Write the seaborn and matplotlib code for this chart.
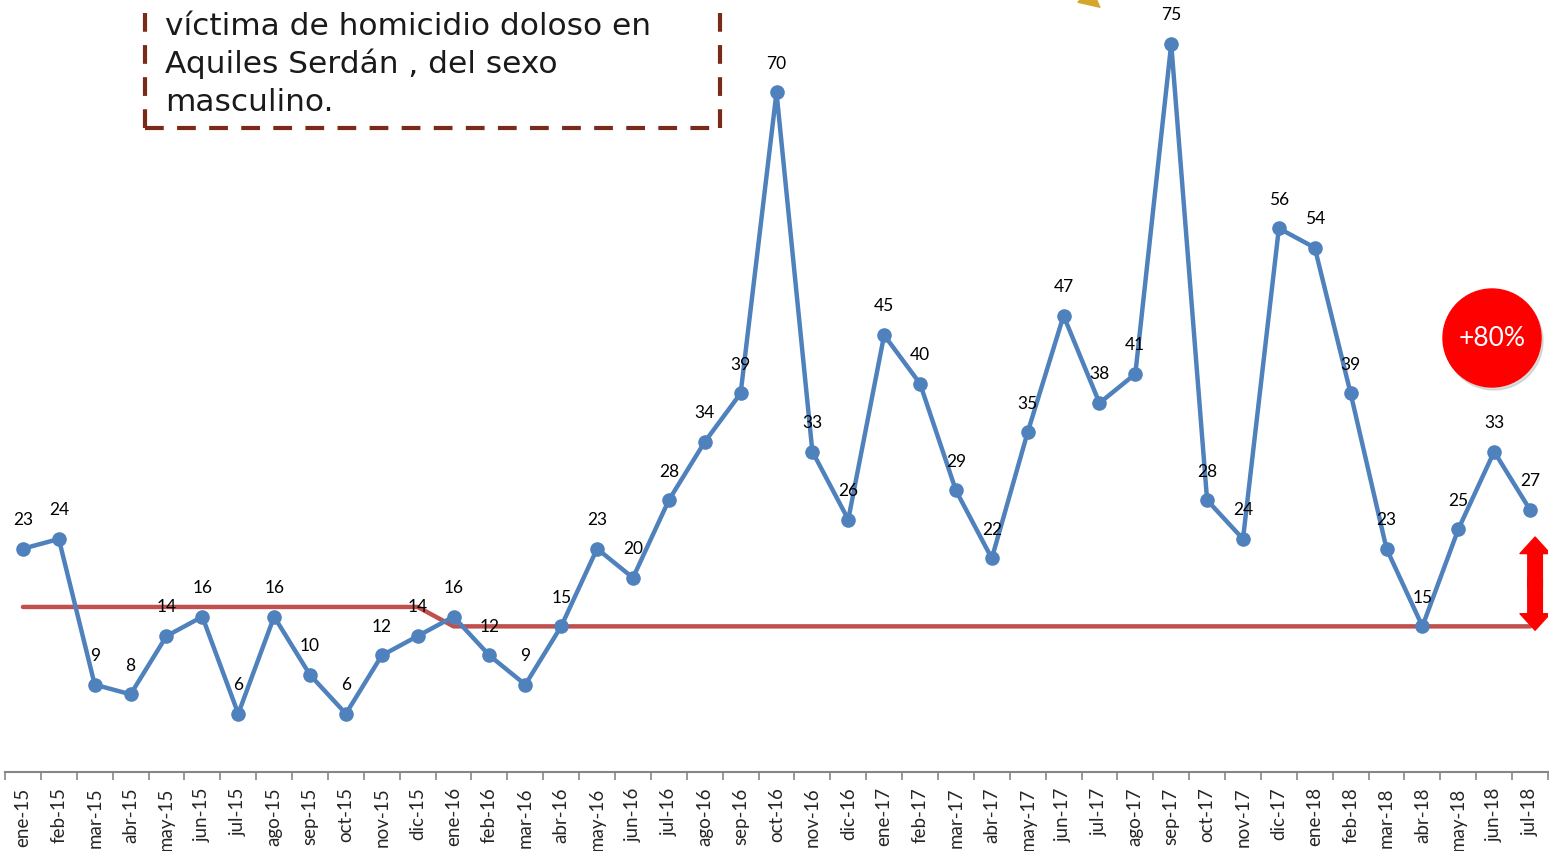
import matplotlib
matplotlib.use("Agg")
import matplotlib.pyplot as plt
import seaborn as sns
import pandas as pd
from matplotlib.patches import Ellipse, FancyArrowPatch
from matplotlib.lines import Line2D

months = ["ene-15", "feb-15", "mar-15", "abr-15", "may-15", "jun-15", "jul-15", "ago-15",
          "sep-15", "oct-15", "nov-15", "dic-15",
          "ene-16", "feb-16", "mar-16", "abr-16", "may-16", "jun-16", "jul-16", "ago-16",
          "sep-16", "oct-16", "nov-16", "dic-16",
          "ene-17", "feb-17", "mar-17", "abr-17", "may-17", "jun-17", "jul-17", "ago-17",
          "sep-17", "oct-17", "nov-17", "dic-17",
          "ene-18", "feb-18", "mar-18", "abr-18", "may-18", "jun-18", "jul-18"]
victims = [23, 24, 9, 8, 14, 16, 6, 16, 10, 6, 12, 14,
           16, 12, 9, 15, 23, 20, 28, 34, 39, 70, 33, 26,
           45, 40, 29, 22, 35, 47, 38, 41, 75, 28, 24, 56,
           54, 39, 23, 15, 25, 33, 27]
reference = [17, 17, 17, 17, 17, 17, 17, 17, 17, 17, 17, 17,
             15, 15, 15, 15, 15, 15, 15, 15, 15, 15, 15, 15,
             15, 15, 15, 15, 15, 15, 15, 15, 15, 15, 15, 15,
             15, 15, 15, 15, 15, 15, 15]
box_lines = ["víctima de homicidio doloso en", "Aquiles Serdán , del sexo", "masculino."]
badge_text = "+80%"

sns.set_theme(style="white")
plt.rcParams["font.family"] = ["Lato", "DejaVu Sans"]

df = pd.DataFrame({"i": range(len(months)), "mes": months, "v": victims, "ref": reference})

W, H = 1550, 851
fig = plt.figure(figsize=(W / 100, H / 100), dpi=100)
ax = fig.add_axes([5 / W, 1 - 772 / H, 1543 / W, 767 / H])

blue = "#4F81BD"
red = "#C0504D"

sns.lineplot(data=df, x="i", y="ref", ax=ax, color=red, linewidth=3.2, zorder=2,
             solid_capstyle="round")
sns.lineplot(data=df, x="i", y="v", ax=ax, color=blue, linewidth=3.2, marker="o",
             markersize=10.5, markeredgewidth=0, markerfacecolor=blue, zorder=3)

for i, v in enumerate(victims):
    ax.annotate(str(v), (i, v), xytext=(0, 17), textcoords="offset points",
                ha="center", va="baseline", fontsize=12.5, color="black", zorder=5)

ax.set_xlim(-0.5, len(months) - 0.5)
ax.set_ylim(0, 79)
ax.set_xlabel("")
ax.set_ylabel("")
ax.set_yticks([])
ax.set_xticks(range(len(months)))
ax.set_xticklabels(months, rotation=90, fontsize=13.5)
ax.set_xticks([k - 0.5 for k in range(len(months) + 1)], minor=True)
ax.tick_params(axis="x", which="major", length=0, pad=11)
ax.tick_params(axis="x", which="minor", length=6, width=1.2, color="#868686",
               direction="out", bottom=True)
for s in ["top", "left", "right"]:
    ax.spines[s].set_visible(False)
ax.spines["bottom"].set_color("#868686")
ax.spines["bottom"].set_linewidth(1.5)
ax.patch.set_alpha(0)

# red double arrow
style = "simple,head_length=0.85,head_width=1.55,tail_width=0.75"
ax.add_patch(FancyArrowPatch((42.14, 20.0), (42.14, 14.6), arrowstyle=style,
                             mutation_scale=14, color="red", zorder=6, shrinkA=0, shrinkB=0))
ax.add_patch(FancyArrowPatch((42.14, 19.0), (42.14, 24.2), arrowstyle=style,
                             mutation_scale=14, color="red", zorder=6, shrinkA=0, shrinkB=0))

# red badge
cx, cy, r = 1492, 338, 49
shadow = Ellipse(((cx + 2) / W, 1 - (cy + 3) / H), 2 * r / W, 2 * r / H,
                 transform=fig.transFigure, color="#bbbbbb", alpha=0.5, zorder=7)
fig.add_artist(shadow)
badge = Ellipse((cx / W, 1 - cy / H), 2 * r / W, 2 * r / H, transform=fig.transFigure,
                color="#FF0000", zorder=8)
fig.add_artist(badge)
fig.text(cx / W, 1 - cy / H, badge_text, ha="center", va="center", color="white",
         fontsize=19, zorder=9)

# dashed text box
brown = "#7A2A18"
box_kw = dict(color=brown, linewidth=3, linestyle=(0, (4.5, 3.2)), transform=fig.transFigure)
fig.add_artist(Line2D([145 / W, 145 / W], [1 - 128 / H, 1.01], **box_kw))
fig.add_artist(Line2D([720 / W, 720 / W], [1 - 128 / H, 1.01], **box_kw))
fig.add_artist(Line2D([145 / W, 720 / W], [1 - 128 / H, 1 - 128 / H], **box_kw))
for k, line in enumerate(box_lines):
    fig.text(165 / W, 1 - (35 + 38 * k) / H, line, ha="left", va="baseline",
             fontsize=22.5, color="#1a1a1a", family=["DejaVu Sans"])

# gold arrow tip at top
fig.add_artist(FancyArrowPatch((1060 / W, 1.03), (1102 / W, 1 - 9 / H),
                               transform=fig.transFigure,
                               arrowstyle="simple,head_length=1.2,head_width=1.2,tail_width=0.5",
                               mutation_scale=12, color="#D6A52B"))

fig.savefig("out.png", dpi=100)
